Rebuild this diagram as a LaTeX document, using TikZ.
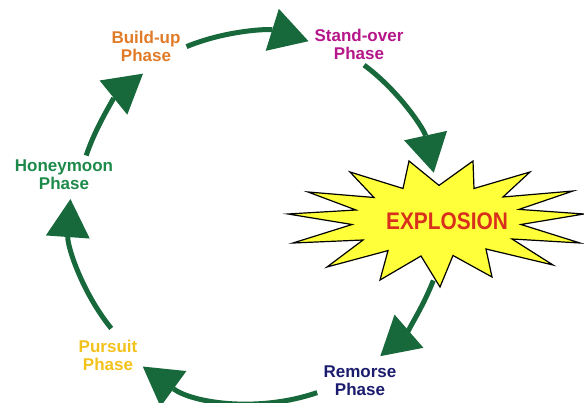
\documentclass[tikz,border=0pt]{standalone}
\usepackage{fontspec}
\setmainfont{Liberation Sans}
\usetikzlibrary{arrows.meta,calc}
\definecolor{arrowgreen}{HTML}{17683A}
\definecolor{buildorange}{HTML}{E07B28}
\definecolor{standpurple}{HTML}{B5178A}
\definecolor{honeygreen}{HTML}{1E8A4A}
\definecolor{pursuityellow}{HTML}{F2C21B}
\definecolor{remorsenavy}{HTML}{1C1C6E}
\definecolor{explred}{HTML}{D8301C}
\definecolor{staryellow}{HTML}{FFFF3A}
\tikzset{
  lbl/.style={align=center, inner sep=0pt, font=\bfseries\fontsize{17}{18}\selectfont},
  cyclearrow/.style={draw=arrowgreen, line width=5pt,
    -{Triangle[length=38pt,width=44pt,line width=0pt]}},
  burst/.style={draw=black, fill=staryellow, line width=1.2pt, line join=miter}
}
\begin{document}
\begin{tikzpicture}[x=1pt,y=1pt]
\useasboundingbox (0,0) rectangle (584,-403);
\clip (0,0) rectangle (584,-403);
% explosion burst
\draw[burst] (288,-214) -- (356,-210) -- (308,-192) -- (374,-197.5) -- (350,-172) -- (403,-188.5)
  -- (409,-161) -- (439,-185.4) -- (473,-161) -- (474,-188.5) -- (530,-172) -- (503,-197)
  -- (573,-191) -- (519,-209.4) -- (584,-214) -- (521,-224.5) -- (580,-243) -- (512,-239)
  -- (553,-265) -- (486,-249) -- (492,-277) -- (453,-255.5) -- (440,-287) -- (421,-256)
  -- (380,-280) -- (388,-250.6) -- (327,-267) -- (363,-240) -- (293,-243) -- (352,-224.5) -- cycle;
\node[font=\bfseries\fontsize{24}{24}\selectfont, text=explred, xscale=0.87, inner sep=0pt] (expl) at (447,-221) {EXPLOSION};
% labels
\node[lbl, text=buildorange] (build) at (146,-46) {Build-up\\Phase};
\node[lbl, text=standpurple] (stand) at (359,-44) {Stand-over\\Phase};
\node[lbl, text=honeygreen] (honey) at (64,-175) {Honeymoon\\Phase};
\node[lbl, text=pursuityellow] (pursuit) at (108,-355) {Pursuit\\Phase};
\node[lbl, text=remorsenavy] (remorse) at (360,-381) {Remorse\\Phase};
% cycle arrows
\coordinate (O) at (255,-212);
\coordinate (a6) at ($(O)+(-141:185)$);
\coordinate (a1) at ($(O)+(-198.5:178)$);
\coordinate (a2) at ($(O)+(-247.5:179)$);
\coordinate (a3) at ($(O)+(-306.6:183)$);
\coordinate (a4) at ($(O)+(-21:191)$);
\coordinate (a5) at ($(O)+(-71:191)$);
\draw[cyclearrow] (a6) arc[start angle=-141, end angle=-184, radius=185];
\draw[cyclearrow] (a1) arc[start angle=-198.5, end angle=-231, radius=178];
\draw[cyclearrow] (a2) arc[start angle=-247.5, end angle=-287.4, radius=179];
\draw[cyclearrow] (a3) arc[start angle=-306.6, end angle=-347.6, radius=183];
\draw[cyclearrow] (a4) arc[start angle=-21, end angle=-49, radius=191];
\draw[cyclearrow] (a5) arc[start angle=-71, end angle=-126, radius=191];
\end{tikzpicture}
\end{document}
